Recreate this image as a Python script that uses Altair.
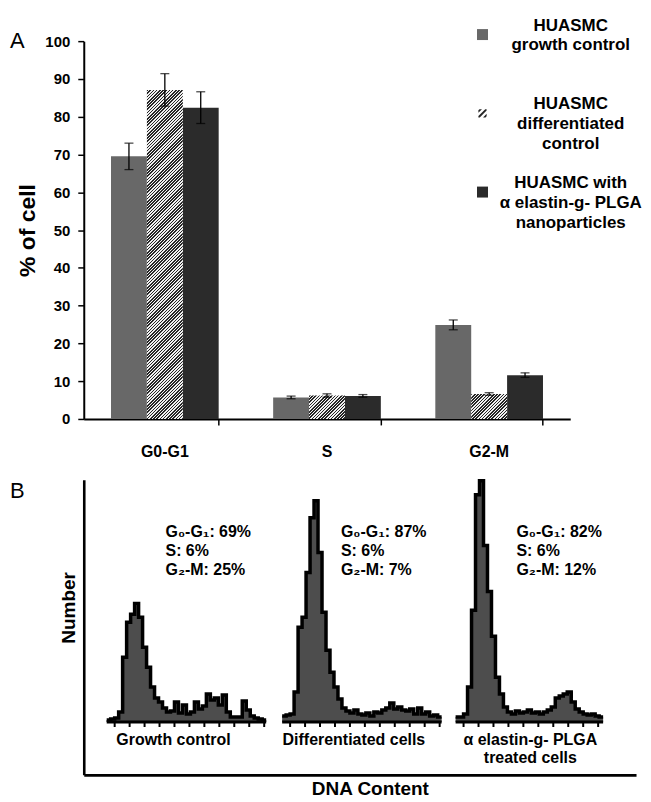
import altair as alt
import pandas as pd
import numpy as np

# ---------------- Panel A data ----------------
phases = ["G0-G1", "S", "G2-M"]
series = ["HUASMC\ngrowth control",
          "HUASMC\ndifferentiated\ncontrol",
          "HUASMC with\nα elastin-g- PLGA\nnanoparticles"]
growth_vals = [69.5, 5.7, 24.9]
growth_err = [3.5, 0.35, 1.3]
diff_vals = [87.1, 6.2, 6.6]
diff_err = [4.3, 0.45, 0.35]
elastin_vals = [82.4, 6.1, 11.6]
elastin_err = [4.2, 0.35, 0.6]
y_tick_values = [0, 10, 20, 30, 40, 50, 60, 70, 80, 90, 100]

# ---------------- Panel B data ----------------
hist_labels = ["Growth control", "Differentiated cells", "α elastin-g- PLGA\ntreated cells"]
hist_growth = [2, 3, 4, 10, 65, 100, 108, 119, 105, 75, 55, 35, 24, 20, 14, 10, 11, 20, 9, 17,
               8, 10, 20, 13, 16, 28, 22, 24, 17, 27, 10, 5, 5, 5, 21, 12, 6, 4, 3, 2]
hist_diff = [6, 7, 8, 30, 95, 105, 150, 205, 222, 170, 110, 72, 50, 35, 23, 14, 11, 9, 12, 8,
             7, 9, 6, 10, 9, 12, 14, 19, 13, 15, 12, 11, 13, 8, 14, 8, 10, 6, 7, 5]
hist_elastin = [5, 5, 8, 35, 112, 228, 242, 177, 131, 86, 45, 28, 15, 10, 8, 11, 9, 10, 12, 9,
                10, 8, 10, 12, 15, 24, 26, 28, 30, 20, 13, 10, 8, 7, 8, 6, 5]
hist_start = [5.75, 49.75, 93.25]          # where each histogram sits on the DNA-content axis
annotations = ["G₀-G₁: 69%\nS: 6%\nG₂-M: 25%",
               "G₀-G₁: 87%\nS: 6%\nG₂-M: 7%",
               "G₀-G₁: 82%\nS: 6%\nG₂-M: 12%"]

FONT = "Liberation Sans"
GRAY = "#686868"
DARK = "#2b2b2b"
HATCH_DARK = "#262626"
HATCH_LIGHT = "#f0f0f0"
HIST_FILL = "#4d4d4d"

W_A, H_A = 488, 379
W_B, H_B = 554, 296
B_BASE = 53
BAR_W = W_A / 3 * (1 - 0.336) / 3  # width of one bar in px

# ---------------- Panel A ----------------
rows = []
for s, vals, errs in zip(series, [growth_vals, diff_vals, elastin_vals],
                         [growth_err, diff_err, elastin_err]):
    for p, v, e in zip(phases, vals, errs):
        rows.append(dict(phase=p, series=s, value=v, lo=v - e, hi=v + e))
df_a = pd.DataFrame(rows)

x_axis = alt.Axis(title=None, labelAngle=0, labelFont=FONT, labelFontSize=16,
                  labelFontWeight="bold", labelColor="black", domainColor="black",
                  domainWidth=2, tickColor="black", tickWidth=1.5, tickSize=6,
                  bandPosition=1, labelPadding=19, grid=False)
x_enc = alt.X("phase:N", sort=phases,
              scale=alt.Scale(domain=phases, paddingInner=0.336, paddingOuter=0.168),
              axis=x_axis)
xoff = alt.XOffset("series:N", sort=series,
                   scale=alt.Scale(domain=series, paddingInner=0, paddingOuter=0))
y_axis = alt.Axis(title="% of cell", titleFont=FONT, titleFontSize=23, titleFontWeight="bold",
                  titleColor="black", titlePadding=5, values=y_tick_values, labelFont=FONT,
                  labelFontSize=15, labelFontWeight="bold", labelColor="black",
                  labelPadding=8, tickSize=6, tickColor="black", tickWidth=1.5,
                  domainColor="black", domainWidth=2, grid=False)
y_scale = alt.Scale(domain=[0, 100], nice=False)

hatch_path = ("M-0.75,-0.55L-0.55,-0.75L-0.1,-0.75L-0.75,-0.1Z"
              "M-0.75,0.5L0.5,-0.75L0.75,-0.75L0.75,-0.5L-0.5,0.75L-0.75,0.75Z"
              "M0.1,0.75L0.75,0.1L0.75,0.55L0.55,0.75Z")

legend = alt.Legend(title=None, orient="none", legendX=391.5, legendY=-15.1, direction="vertical",
                    labelExpr="length(split(datum.label, '\\n')) < 3 ? "
                              "[split(datum.label, '\\n')[0], split(datum.label, '\\n')[1], ''] : "
                              "split(datum.label, '\\n')",
                    labelAlign="center", labelBaseline="bottom", labelOffset=80,
                    labelFont=FONT, labelFontSize=17, labelFontWeight="bold",
                    labelColor="black", labelLimit=300, rowPadding=21, padding=0,
                    symbolSize=121, symbolStrokeWidth=0, symbolOpacity=1)
color_scale = alt.Scale(domain=series, range=[GRAY, HATCH_DARK, DARK])
shape_scale = alt.Scale(domain=series, range=["square", hatch_path, "square"])

legend_pts = alt.Chart(df_a).transform_calculate(mid="datum.value / 2").mark_point(
    filled=True, size=60, opacity=1, strokeWidth=0
).encode(
    x=x_enc, xOffset=xoff,
    y=alt.Y("mid:Q", scale=y_scale, axis=y_axis),
    color=alt.Color("series:N", scale=color_scale, legend=legend),
    shape=alt.Shape("series:N", scale=shape_scale, legend=legend),
)

solid_bars = alt.Chart(df_a).transform_filter(
    alt.FieldOneOfPredicate(field="series", oneOf=[series[0], series[2]])
).mark_bar(strokeWidth=0).encode(
    x=x_enc, xOffset=xoff,
    y=alt.Y("value:Q", scale=y_scale, axis=y_axis),
    color=alt.Color("series:N", scale=color_scale, legend=None),
)


def hatch_gradient(value, period=3.2):
    w = BAR_W
    h = value * H_A / 100.0
    k = w * (w + h) / (w * w + h * h)
    L = w + h
    half = period / 2.0
    n = int(np.ceil(L / half))
    stops = []
    for i in range(n):
        c = HATCH_DARK if i % 2 == 0 else HATCH_LIGHT
        a = min(i * half / L, 1.0)
        b = min((i + 1) * half / L, 1.0)
        stops.append(alt.GradientStop(offset=a, color=c))
        stops.append(alt.GradientStop(offset=b, color=c))
    return alt.LinearGradient(gradient="linear", stops=stops, x1=0, y1=0, x2=k, y2=k * h / w)


hatched_layers = []
for p, v in zip(phases, diff_vals):
    hatched_layers.append(
        alt.Chart(df_a).transform_filter(
            alt.FieldEqualPredicate(field="phase", equal=p)
        ).transform_filter(
            alt.FieldEqualPredicate(field="series", equal=series[1])
        ).mark_bar(color=hatch_gradient(v), strokeWidth=0).encode(
            x=x_enc, xOffset=xoff,
            y=alt.Y("value:Q", scale=y_scale, axis=y_axis),
        )
    )

err_rule = alt.Chart(df_a).mark_rule(color="black", strokeWidth=1.3).encode(
    x=x_enc, xOffset=xoff,
    y=alt.Y("lo:Q", scale=y_scale, axis=y_axis), y2="hi:Q",
)
cap_lo = alt.Chart(df_a).mark_tick(color="black", thickness=1.3, size=9).encode(
    x=x_enc, xOffset=xoff, y=alt.Y("lo:Q", scale=y_scale, axis=y_axis))
cap_hi = alt.Chart(df_a).mark_tick(color="black", thickness=1.3, size=9).encode(
    x=x_enc, xOffset=xoff, y=alt.Y("hi:Q", scale=y_scale, axis=y_axis))

panel_a = alt.layer(legend_pts, solid_bars, *hatched_layers, err_rule, cap_lo, cap_hi).properties(
    width=W_A, height=H_A,
    view=alt.ViewBackground(stroke="transparent", strokeWidth=0),
    title=alt.TitleParams("A", anchor="start", frame="group", fontSize=22, fontWeight="normal",
                          font=FONT, color="black", dx=-74, dy=19, baseline="top", offset=0),
)

# ---------------- Panel B ----------------
steps = []
frames = []
ticks = []
for name, counts, start in zip(hist_labels, [hist_growth, hist_diff, hist_elastin], hist_start):
    n = len(counts)
    for i, c in enumerate(counts):
        steps.append(dict(hist=name, x=start + i, count=c, order=i, zero=0))
    steps.append(dict(hist=name, x=start + n, count=counts[-1], order=n, zero=0))
    frames.append(dict(hist=name, xs=start, xe=start + n, zero=0))
    for t in np.arange(start + 2.0, start + n, 3.75):
        ticks.append(dict(hist=name, x=float(t), lo=-5, zero=0))
df_steps = pd.DataFrame(steps)
df_frames = pd.DataFrame(frames)
df_ticks = pd.DataFrame(ticks)

df_annot = pd.DataFrame(dict(text=annotations,
                             x=[s + 14.75 for s in hist_start[:2]] + [hist_start[2] + 15.25],
                             y=[199, 199, 199]))
df_lab = pd.DataFrame(dict(text=hist_labels, x=[22.5, 67.75, 112.0], y=[-10, -10, -10]))

bx_scale = alt.Scale(domain=[0, W_B / 4], nice=False, zero=False)
by_scale = alt.Scale(domain=[-B_BASE, H_B - B_BASE], nice=False, zero=False)
bx_axis = alt.Axis(title="DNA Content", titleFont=FONT, titleFontSize=19, titleFontWeight="bold",
                   titleColor="black", titlePadding=5, titleX=287, labels=False, ticks=False,
                   grid=False, domainColor="black", domainWidth=2.6)
by_axis = alt.Axis(title="Number", titleFont=FONT, titleFontSize=19, titleFontWeight="bold",
                   titleColor="black", titlePadding=5, titleY=128, labels=False, ticks=False,
                   grid=False, domainColor="black", domainWidth=2.6)

hist_fill = alt.Chart(df_steps).mark_area(color=HIST_FILL, interpolate="step-after").encode(
    x=alt.X("x:Q", scale=bx_scale, axis=bx_axis),
    y=alt.Y("count:Q", scale=by_scale, axis=by_axis, stack=None), y2="zero:Q",
    detail="hist:N",
)
hist_line = alt.Chart(df_steps).mark_line(color="black", strokeWidth=3.5, interpolate="step-after").encode(
    x=alt.X("x:Q", scale=bx_scale, axis=bx_axis),
    y=alt.Y("count:Q", scale=by_scale, axis=by_axis),
    detail="hist:N", order="order:Q",
)
base_rule = alt.Chart(df_frames).mark_rule(color="black", strokeWidth=3).encode(
    x=alt.X("xs:Q", scale=bx_scale, axis=bx_axis), x2="xe:Q",
    y=alt.Y("zero:Q", scale=by_scale, axis=by_axis),
)
tick_rule = alt.Chart(df_ticks).mark_rule(color="black", strokeWidth=2).encode(
    x=alt.X("x:Q", scale=bx_scale, axis=bx_axis),
    y=alt.Y("lo:Q", scale=by_scale, axis=by_axis), y2="zero:Q",
)
annot_text = alt.Chart(df_annot).mark_text(
    align="left", baseline="top", lineBreak="\n", lineHeight=19.5, font=FONT,
    fontSize=16, fontWeight="bold", color="black"
).encode(
    x=alt.X("x:Q", scale=bx_scale, axis=bx_axis),
    y=alt.Y("y:Q", scale=by_scale, axis=by_axis), text="text:N",
)
label_text = alt.Chart(df_lab).mark_text(
    align="center", baseline="top", lineBreak="\n", lineHeight=18.5, font=FONT,
    fontSize=16, fontWeight="bold", color="black"
).encode(
    x=alt.X("x:Q", scale=bx_scale, axis=bx_axis),
    y=alt.Y("y:Q", scale=by_scale, axis=by_axis), text="text:N",
)

panel_b = alt.layer(hist_fill, hist_line, base_rule, tick_rule, annot_text, label_text).properties(
    width=W_B, height=H_B,
    view=alt.ViewBackground(stroke="transparent", strokeWidth=0),
    title=alt.TitleParams("B", anchor="start", frame="group", fontSize=22, fontWeight="normal",
                          font=FONT, color="black", dx=-74, dy=29, baseline="top", offset=0),
)

chart = alt.vconcat(panel_a, panel_b, spacing=14).properties(
    padding={"left": 2, "top": 16, "right": 0, "bottom": 0}
).configure(
    font=FONT, style={"guide-label": {"lineHeight": 20}},
    view=alt.ViewConfig(stroke="transparent", strokeWidth=0),
)

chart.save("out.html", embed_options={"renderer": "svg", "actions": False})
